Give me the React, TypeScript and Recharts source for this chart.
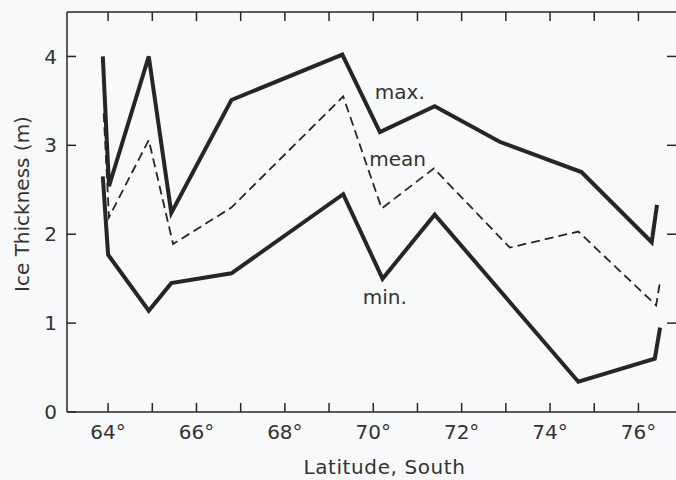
import { LineChart, Line, XAxis, YAxis, ReferenceDot } from "recharts";

// latitude (deg S) / thickness (m)
const maxLat = [63.88, 64.02, 64.92, 65.43, 66.79, 69.3, 70.15, 71.39, 72.86, 74.71, 76.3, 76.42];
const maxThk = [4.0, 2.54, 4.0, 2.24, 3.51, 4.02, 3.15, 3.44, 3.04, 2.7, 1.91, 2.33];

const meanLat = [63.9, 64.02, 64.92, 65.47, 66.79, 69.32, 70.19, 71.37, 73.09, 74.64, 76.4, 76.49];
const meanThk = [3.36, 2.19, 3.06, 1.89, 2.3, 3.55, 2.29, 2.74, 1.85, 2.03, 1.2, 1.47];

const minLat = [63.88, 64.0, 64.92, 65.43, 66.79, 69.32, 70.21, 71.39, 74.64, 76.37, 76.49];
const minThk = [2.65, 1.77, 1.14, 1.45, 1.56, 2.45, 1.5, 2.22, 0.34, 0.6, 0.95];

// ticks every degree, labels only on even degrees
const latTicks = [64, 65, 66, 67, 68, 69, 70, 71, 72, 73, 74, 75, 76];
const thkLabels = [0, 1, 2, 3, 4];
const thkMinor = [1, 2, 3, 4];

const toRows = (lat: number[], thk: number[]) =>
  lat.map((v, i) => ({ lat: v, t: thk[i] }));

const maxData = toRows(maxLat, maxThk);
const meanData = toRows(meanLat, meanThk);
const minData = toRows(minLat, minThk);

const ink = "#262626";
const txt = "#333";
const font = "DejaVu Sans, sans-serif";
const xDomain: [number, number] = [63.07, 76.85];
const yDomain: [number, number] = [0, 4.5];

const noLabel = () => "";
const latLabel = (v: number) => (v % 2 === 0 ? `${v}°` : "");

export default function App() {
  const tickStyle = { fontSize: 20, fill: txt, fontFamily: font };
  const noteStyle = { fontSize: 20, fill: txt, fontFamily: font };
  const frameTick = { stroke: ink, strokeWidth: 1.5 };
  return (
    <div style={{ position: "absolute", left: 0, top: 0, width: 676, height: 480, background: "#f7f9fa" }}>
      <LineChart width={676} height={480} margin={{ top: 12, right: 0, bottom: 0, left: 0 }}>
        <XAxis
          dataKey="lat"
          type="number"
          domain={xDomain}
          allowDataOverflow
          ticks={latTicks}
          tickFormatter={latLabel}
          tickSize={-9}
          tickMargin={22}
          tickLine={frameTick}
          axisLine={frameTick}
          tick={tickStyle}
          height={68}
          label={{
            value: "Latitude, South",
            position: "insideBottom",
            offset: 6,
            dx: 13,
            fontSize: 20,
            fill: txt,
            fontFamily: font,
            letterSpacing: 0.6,
          }}
        />
        <YAxis
          type="number"
          domain={yDomain}
          allowDataOverflow
          ticks={thkLabels}
          tickSize={-9}
          tickMargin={19}
          tickLine={frameTick}
          axisLine={frameTick}
          tick={tickStyle}
          width={67}
          label={({ viewBox }: any) => {
            const cx = viewBox.x + 22;
            const cy = viewBox.y + viewBox.height / 2 - 8;
            return (
              <text
                x={cx}
                y={cy}
                transform={`rotate(-90 ${cx} ${cy})`}
                textAnchor="middle"
                dominantBaseline="central"
                fontSize={20}
                fill={txt}
                fontFamily={font}
              >
                Ice Thickness (m)
              </text>
            );
          }}
        />
        {/* top frame and right-hand inward ticks */}
        <XAxis
          xAxisId="topTicks"
          dataKey="lat"
          orientation="top"
          mirror
          type="number"
          domain={xDomain}
          allowDataOverflow
          ticks={latTicks}
          tickFormatter={noLabel}
          tickSize={9}
          axisLine={frameTick}
          tickLine={frameTick}
          height={1}
        />
        <YAxis
          yAxisId="rightTicks"
          orientation="right"
          mirror
          type="number"
          domain={yDomain}
          allowDataOverflow
          ticks={thkMinor}
          tickFormatter={noLabel}
          tickSize={9}
          axisLine={false}
          tickLine={frameTick}
          width={1}
        />
        {/* invisible series so the frame-only axes get a scale */}
        <Line
          data={minData}
          dataKey="t"
          xAxisId="topTicks"
          yAxisId="rightTicks"
          stroke="none"
          dot={false}
          activeDot={false}
          legendType="none"
          isAnimationActive={false}
        />
        <Line
          data={maxData}
          dataKey="t"
          type="linear"
          stroke={ink}
          strokeWidth={4}
          strokeLinejoin="miter"
          dot={false}
          isAnimationActive={false}
        />
        <Line
          data={meanData}
          dataKey="t"
          type="linear"
          stroke={ink}
          strokeWidth={1.8}
          strokeDasharray="9 5"
          dot={false}
          isAnimationActive={false}
        />
        <Line
          data={minData}
          dataKey="t"
          type="linear"
          stroke={ink}
          strokeWidth={4}
          strokeLinejoin="miter"
          dot={false}
          isAnimationActive={false}
        />
        <ReferenceDot x={70.6} y={3.6} r={0} fill="none" stroke="none" label={{ value: "max.", position: "center", ...noteStyle }} />
        <ReferenceDot x={70.55} y={2.85} r={0} fill="none" stroke="none" label={{ value: "mean", position: "center", ...noteStyle }} />
        <ReferenceDot x={70.26} y={1.3} r={0} fill="none" stroke="none" label={{ value: "min.", position: "center", ...noteStyle }} />
      </LineChart>
    </div>
  );
}
